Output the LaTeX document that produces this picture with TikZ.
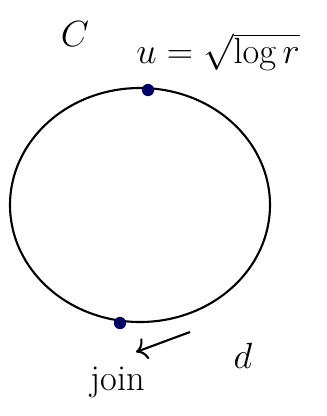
\documentclass[tikz,border=0pt]{standalone}
\usetikzlibrary{arrows.meta}
\begin{document}
\begin{tikzpicture}[x=0.02cm, y=-0.02cm]
        \useasboundingbox (0,0) rectangle (326,416);
        \tikzset{pt/.style={circle, fill=blue!40!black, inner sep=0pt, minimum size=7pt},
                 lbl/.style={font=\huge}}

        % Circle with its two marked points
        \draw[line width=1.2pt] (140,205) ellipse (130 and 117);
        \node[pt] (top) at (148,90) {};
        \node[pt] (bot) at (120,323) {};

        % Labels above the circle
        \node[lbl] (c) at (75,34) {$C$};
        \node[lbl] (u) at (218,52) {$u=\sqrt{\log r}$};

        % Arrow to the join point
        \coordinate (tail) at (190,332);
        \coordinate (head) at (136,352);
        \node[lbl] (join) at (118,382) {join};
        \node[lbl] (d) at (243,356) {$d$};
        \draw[line width=1.2pt, -{To[length=6pt]}] (tail) -- (head);
    \end{tikzpicture}
\end{document}
